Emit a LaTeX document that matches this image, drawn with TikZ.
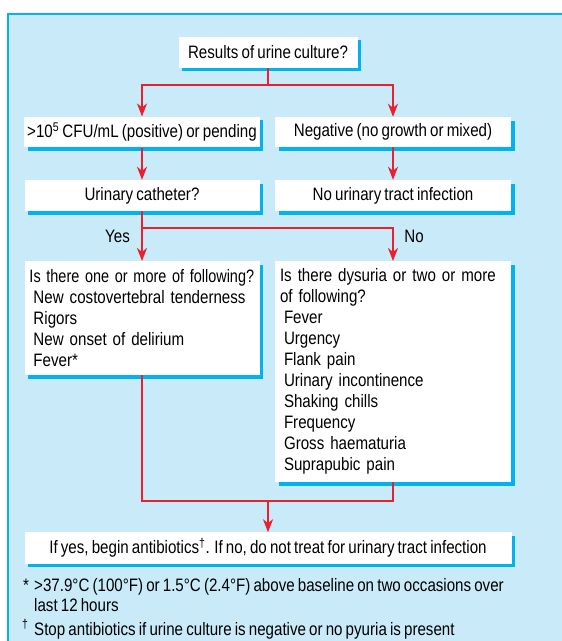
\documentclass[tikz,border=0pt]{standalone}
\usepackage{fontspec}
\setmainfont{Liberation Sans}[FakeStretch=0.84, WordSpace=0.75]
\usetikzlibrary{arrows.meta,shadows}
\definecolor{panelblue}{RGB}{200,234,249}
\definecolor{frameblue}{RGB}{0,178,240}
\definecolor{arrowred}{RGB}{234,32,44}
\newcommand{\listind}{\hspace*{4pt}}
\tikzset{
  txt/.style={font=\fontsize{18}{21}\selectfont, text=black},
  box/.style={txt, fill=white, inner xsep=3pt, inner ysep=6pt,
    drop shadow={shadow xshift=3.5pt, shadow yshift=-3.5pt, fill=frameblue, opacity=1}},
  listbox/.style={box, anchor=north, inner xsep=5pt, align=left},
  flow/.style={draw=arrowred, line width=1.8pt},
  arr/.style={flow, -{Stealth[length=13pt, width=10pt, inset=4pt, fill=arrowred]}}
}
\begin{document}
\begin{tikzpicture}[x=1pt,y=-1pt]
\useasboundingbox (0,0) rectangle (562,641);
\draw[frameblue, line width=1.5pt, fill=panelblue] (8,14) rectangle (590,670);

  \node[box, minimum width=179pt, minimum height=31pt] (culture) at (268,52) {Results of urine culture?};
  \node[box, minimum width=235pt, minimum height=30pt] (positive) at (142,132) {>10\textsuperscript{5} CFU/mL (positive) or pending};
  \node[box, minimum width=236pt, minimum height=30pt] (negative) at (393,132) {Negative (no growth or mixed)};
  \node[box, minimum width=235pt, minimum height=31pt] (catheter) at (142,195.5) {Urinary catheter?};
  \node[box, minimum width=236pt, minimum height=31pt] (noinfection) at (393,195.5) {No urinary tract infection};
  \node[listbox, text width=225pt, minimum height=114pt] (withcath) at (142,261)
    {\scalebox{0.955}[1]{Is there one or more of following?}\\ \listind New costovertebral tenderness\\ \listind Rigors\\
     \listind New onset of delirium\\ \listind Fever*};
  \node[listbox, text width=226pt, minimum height=221pt] (withoutcath) at (393,261)
    {Is there dysuria or two or more\\ of following?\\ \listind Fever\\ \listind Urgency\\ \listind Flank pain\\
     \listind Urinary incontinence\\ \listind Shaking chills\\ \listind Frequency\\ \listind Gross haematuria\\
     \listind Suprapubic pain};
  \node[box, minimum width=487pt, minimum height=30pt] (treat) at (268,548)
    {If yes, begin antibiotics\textsuperscript{†}. If no, do not treat for urinary tract infection};

  \node[txt, anchor=base] (yes) at (117.5,242.5) {Yes};
  \node[txt, anchor=base] (no) at (414,242.5) {No};

  \coordinate (split) at (268,85);
  \coordinate (fork) at (142,228);
  \coordinate (merge) at (268,501);
  \draw[flow] (culture.south) -- (split);
  \draw[arr] (split) -| (positive.north);
  \draw[arr] (split) -| (negative.north);
  \draw[arr] (positive.south) -- (catheter.north);
  \draw[arr] (negative.south) -- (noinfection.north);
  \draw[flow] (catheter.south) -- (fork);
  \draw[arr] (fork) -- (withcath.north);
  \draw[arr] (fork) -| (withoutcath.north);
  \draw[flow] (withcath.south) |- (merge) -| (withoutcath.south);
  \draw[arr] (merge) -- (treat.north);

%  footnotes
  \node[txt, anchor=base west, inner sep=0pt] (starmark) at (23,591.5) {*};
  \node[txt, anchor=base west, inner sep=0pt, align=left, font=\fontsize{18}{20}\selectfont] (starnote) at (34,611.5)
    {>37.9°C (100°F) or 1.5°C (2.4°F) above baseline on two occasions over\\ last 12 hours};
  \node[txt, anchor=base west, inner sep=0pt] (daggermark) at (22,635) {\textsuperscript{†}};
  \node[txt, anchor=base west, inner sep=0pt] (daggernote) at (34,635) {Stop antibiotics if urine culture is negative or no pyuria is present};
\end{tikzpicture}
\end{document}
